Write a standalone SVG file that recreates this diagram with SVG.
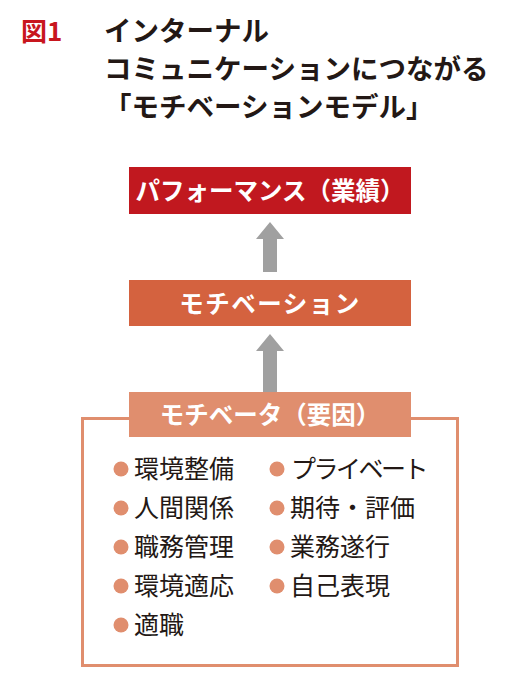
<svg xmlns="http://www.w3.org/2000/svg" width="519" height="688" viewBox="0 0 519 688">
<style>
.t{font-family:"Noto Sans CJK JP","Noto Sans",sans-serif}
.title{font-size:27.5px;font-weight:700;fill:#231815}
.fig{font-size:26px;font-weight:700;fill:#C8161E}
.box{font-size:24.5px;font-weight:700;fill:#ffffff}
.item{font-size:25px;fill:#231815}
.dot{fill:#E08E6E}
.arrow{fill:#A0A0A0}
</style>
<rect width="519" height="688" fill="#ffffff"/>
<g id="title">
<text class="t fig" x="21" y="41">図1</text>
<text class="t title" x="104" y="41">インターナル</text>
<text class="t title" x="104" y="79">コミュニケーションにつながる</text>
<text class="t title" x="104" y="117">「モチベーションモデル」</text>
</g>
<g id="connectors">
<polygon class="arrow" points="270,222 284,239 277,239 277,272 263,272 263,239 256,239"/>
<polygon class="arrow" points="270,334 284,351 277,351 277,392 263,392 263,351 256,351"/>
</g>
<g id="performance">
<rect x="129" y="167" width="282" height="47" fill="#C1181F"/>
<text class="t box" x="270" y="199.5" text-anchor="middle">パフォーマンス（業績）</text>
</g>
<g id="motivation">
<rect x="129" y="280" width="282" height="46" fill="#D4623F"/>
<text class="t box" x="270" y="312.5" text-anchor="middle" letter-spacing="1.5">モチベーション</text>
</g>
<g id="motivator">
<rect x="82.5" y="418.5" width="375" height="247" fill="none" stroke="#E08E6E" stroke-width="3"/>
<rect x="129" y="392" width="282" height="45" fill="#E08E6E"/>
<text class="t box" x="270" y="423.5" text-anchor="middle">モチベータ（要因）</text>
<g id="items">
<circle class="dot" cx="121" cy="469" r="7.5"/><text class="t item" x="134" y="478">環境整備</text>
<circle class="dot" cx="121" cy="508" r="7.5"/><text class="t item" x="134" y="517">人間関係</text>
<circle class="dot" cx="121" cy="547" r="7.5"/><text class="t item" x="134" y="556">職務管理</text>
<circle class="dot" cx="121" cy="586" r="7.5"/><text class="t item" x="134" y="595">環境適応</text>
<circle class="dot" cx="121" cy="625" r="7.5"/><text class="t item" x="134" y="634">適職</text>
<circle class="dot" cx="277" cy="469" r="7.5"/><text class="t item" x="291" y="478" letter-spacing="-2.5">プライベート</text>
<circle class="dot" cx="277" cy="508" r="7.5"/><text class="t item" x="290" y="517">期待・評価</text>
<circle class="dot" cx="277" cy="547" r="7.5"/><text class="t item" x="290" y="556">業務遂行</text>
<circle class="dot" cx="277" cy="586" r="7.5"/><text class="t item" x="290" y="595">自己表現</text>
</g>
</g>
</svg>
